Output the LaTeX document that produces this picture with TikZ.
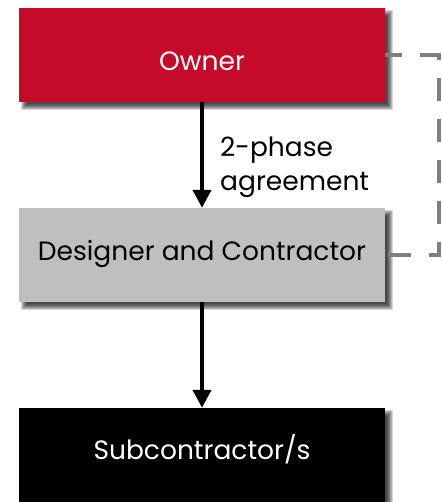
\documentclass[tikz,border=0pt]{standalone}
\usepackage{fontspec}
\setmainfont{Poppins}
\usetikzlibrary{arrows.meta,backgrounds}

\definecolor{ownerred}{RGB}{197,10,41}
\definecolor{designgray}{RGB}{191,191,191}
\definecolor{linkgray}{RGB}{127,127,127}

\tikzset{
  box/.style={rectangle, inner sep=0pt, minimum width=366pt, minimum height=94pt},
  boxtext/.style={font=\fontsize{26.5}{34}\selectfont, inner sep=0pt},
  flow/.style={line width=4pt, -{Triangle[width=18pt,length=18pt]}},
  linkline/.style={draw=linkgray, line width=4pt, dash pattern=on 23pt off 18pt, dash phase=6pt}
}

% soft shadow under a box node
\newcommand\boxshadow[1]{%
  \foreach \e in {-3,-2,...,3}
    \fill[black,opacity=0.16]
      ([shift={(5-\e,5-\e)}]#1.north west) rectangle ([shift={(5+\e,5+\e)}]#1.south east);
}

\begin{document}
\begin{tikzpicture}[x=1pt,y=-1pt]
  \clip (0,0) rectangle (441,502);

  % boxes
  \node[box, fill=ownerred]    (owner)    at (202,55)  {};
  \node[box, fill=designgray]  (designer) at (202,255) {};
  \node[box, fill=black]       (sub)      at (202,455) {};

  \begin{scope}[on background layer]
    \fill[white] (0,0) rectangle (441,502);
    \boxshadow{owner}
    \boxshadow{designer}
    \boxshadow{sub}
  \end{scope}

  % box texts
  \node[boxtext, text=white, anchor=base] (ownertxt)    at (202,71)    {Owner};
  \node[boxtext, text=black, anchor=base] (designertxt) at (202,260)   {Designer and Contractor};
  \node[boxtext, text=white, anchor=base] (subtxt)      at (202,459.5) {Subcontractor/s};

  % connectors
  \draw[flow] (owner.south) -- (designer.north);
  \draw[flow] (designer.south) -- (sub.north);
  \node[boxtext, anchor=north west, align=left] (phase) at (220,137)
    {2-phase\\agreement};

  % dashed link between owner and designer
  \coordinate (corner) at (438.5,55);
  \draw[linkline] (owner.east) -- (corner) |- (designer.east);
\end{tikzpicture}
\end{document}
